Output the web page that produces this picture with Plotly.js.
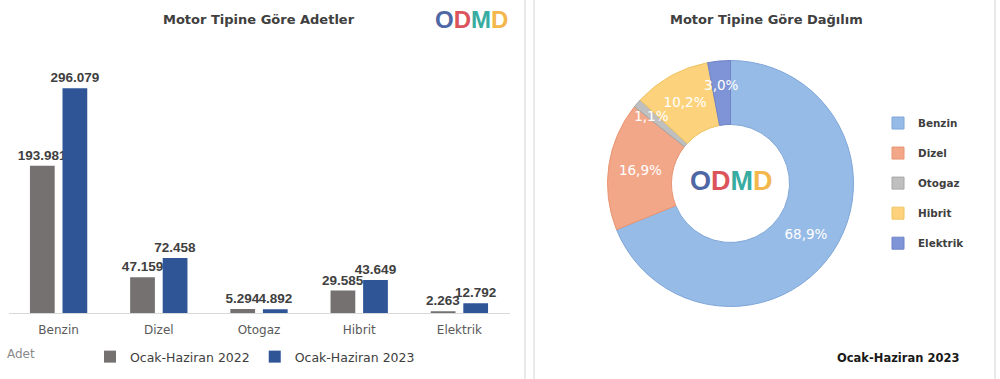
<!DOCTYPE html>
<html><head><meta charset="utf-8">
<script src="https://cdn.plot.ly/plotly-3.0.1.min.js"></script>
<style>html,body{margin:0;padding:0;background:#fff}#chart{width:1000px;height:379px}</style>
</head><body><div id="chart"></div>
<script>
// ---- data ----
const categories = ['Benzin', 'Dizel', 'Otogaz', 'Hibrit', 'Elektrik'];
const values2022 = [193981, 47159, 5294, 29585, 2263];
const values2023 = [296079, 72458, 4892, 43649, 12792];
const seriesNames = ['Ocak-Haziran 2022', 'Ocak-Haziran 2023'];
const pieValues = values2023;           // share of 2023 by motor type
const leftTitle = 'Motor Tipine Göre Adetler';
const rightTitle = 'Motor Tipine Göre Dağılım';
const unitLabel = 'Adet';
const periodLabel = 'Ocak-Haziran 2023';
const logoLetters = ['O', 'D', 'M', 'D'];

// ---- styles ----
const FONT = 'DejaVu Sans';
const barColors = ['#767171', '#2f5597'];
const pieColors = ['#96bbe7', '#f3a789', '#bfbfbf', '#fdd27c', '#7f94d6'];
const pieLines = ['#7fa6d8', '#e89572', '#a6a6a6', '#eec463', '#6f84c8'];
const logoColors = ['#3f5b9e', '#d9464f', '#27a59a', '#f2b13d'];
const TXT = 13.5;
const smallSlices = ['Otogaz', 'Elektrik'];

const barTrace = (vals, i) => ({
  type: 'bar', x: categories, y: vals, name: seriesNames[i],
  marker: {color: barColors[i]},
  texttemplate: '%{y:,.0f}', textposition: 'outside', cliponaxis: false,
  textfont: {family: 'Liberation Sans', size: 13, color: '#404040', weight: 'bold'},
  legend: 'legend', hoverinfo: 'x+y+name'
});

// main donut (centre 730.5, 183.5 px; outer radius 123 px)
const pieDomain = {x: [0.6075, 0.8535], y: [0.19, 0.8417]};
const pieTrace = {
  type: 'pie', labels: categories.map(c => c + '<br> '), values: pieValues,
  hole: 0.48, sort: false, direction: 'clockwise', rotation: 0,
  marker: {colors: pieColors, line: {color: pieLines, width: 1}},
  texttemplate: categories.map(c => smallSlices.includes(c) ? '' : '%{percent:.1%}'),
  textposition: 'inside', insidetextorientation: 'horizontal',
  textfont: {family: FONT, size: TXT, color: '#ffffff'},
  domain: pieDomain, legend: 'legend2', hoverinfo: 'label+percent'
};
// transparent, slightly smaller copy on top carrying the labels of the thin slices
const pieLabelTrace = {
  type: 'pie', labels: categories.map(c => c + '<br> '), values: pieValues,
  hole: 0.55, sort: false, direction: 'clockwise', rotation: 0,
  marker: {colors: categories.map(() => 'rgba(0,0,0,0)'), line: {width: 0}},
  texttemplate: categories.map(c => smallSlices.includes(c) ? '%{percent:.1%}' : ''),
  textposition: 'inside', insidetextorientation: 'horizontal',
  textfont: {family: FONT, size: TXT, color: '#ffffff'},
  domain: {x: [0.6225, 0.8385], y: [0.2308, 0.8008]}, showlegend: false, hoverinfo: 'skip'
};

const logoText = logoLetters.map((l, i) => `<span style="color:${logoColors[i]}">${l}</span>`).join('');

const annotations = [
  {text: leftTitle, x: 0.2585, y: 1 - 20/379, xanchor: 'center', yanchor: 'middle',
   font: {family: FONT, size: 13, color: '#404040', weight: 'bold'}},
  {text: rightTitle, x: 0.766, y: 1 - 20/379, xanchor: 'center', yanchor: 'middle',
   font: {family: FONT, size: 13, color: '#404040', weight: 'bold'}},
  {text: unitLabel, x: 0.005, y: 1 - 354/379, xanchor: 'left', yanchor: 'middle',
   font: {family: FONT, size: 12, color: '#8a8a8a'}},
  {text: periodLabel, x: 0.961, y: 1 - 358/379, xanchor: 'right', yanchor: 'middle',
   font: {family: FONT, size: 11.5, color: '#1a1a1a', weight: 'bold'}},
  {text: logoText, x: 0.471, y: 1 - 19/379, xanchor: 'center', yanchor: 'middle', opacity: 0.92,
   font: {family: 'Liberation Sans', size: 24, weight: 'bold'}},
  {text: logoText, x: 0.7315, y: 1 - 181.5/379, xanchor: 'center', yanchor: 'middle', opacity: 0.92,
   font: {family: 'Liberation Sans', size: 27, weight: 'bold'}}
];
annotations.forEach(a => { a.xref = 'paper'; a.yref = 'paper'; a.showarrow = false; });

const vline = (x) => ({type: 'line', xref: 'paper', yref: 'paper', x0: x/1000, x1: x/1000, y0: 0, y1: 1,
  line: {color: '#e3e3e3', width: 1.5}});

const layout = {
  width: 1000, height: 379, margin: {l: 0, r: 0, t: 0, b: 0},
  paper_bgcolor: '#ffffff', plot_bgcolor: '#ffffff',
  separators: ',.',
  font: {family: FONT, color: '#404040'},
  barmode: 'group', bargap: 0.35, bargroupgap: 0.24,
  xaxis: {domain: [0.0085, 0.5095], showline: true, linecolor: '#d9d9d9', linewidth: 1,
    showgrid: false, zeroline: false, ticks: '', ticklabelstandoff: 6,
    tickfont: {family: FONT, size: 12, color: '#595959'}, fixedrange: true},
  yaxis: {domain: [0.1741, 0.8417], range: [0, 333370], visible: false, fixedrange: true},
  showlegend: true,
  legend: {orientation: 'h', x: 0.09, y: 22/379, xanchor: 'left', yanchor: 'middle',
    font: {family: FONT, size: 12.5, color: '#404040'}, bgcolor: 'rgba(0,0,0,0)'},
  legend2: {orientation: 'v', x: 0.878, y: 0.498, xanchor: 'left', yanchor: 'middle', valign: 'top',
    font: {family: FONT, size: 10.4, color: '#404040', weight: 'bold'}, bgcolor: 'rgba(0,0,0,0)'},
  uniformtext: {minsize: TXT, mode: 'show'},
  annotations: annotations,
  shapes: [vline(525), vline(534), vline(995)]
};

Plotly.newPlot('chart', [barTrace(values2022, 0), barTrace(values2023, 1), pieTrace, pieLabelTrace], layout,
  {displayModeBar: false, staticPlot: true});
</script></body></html>
